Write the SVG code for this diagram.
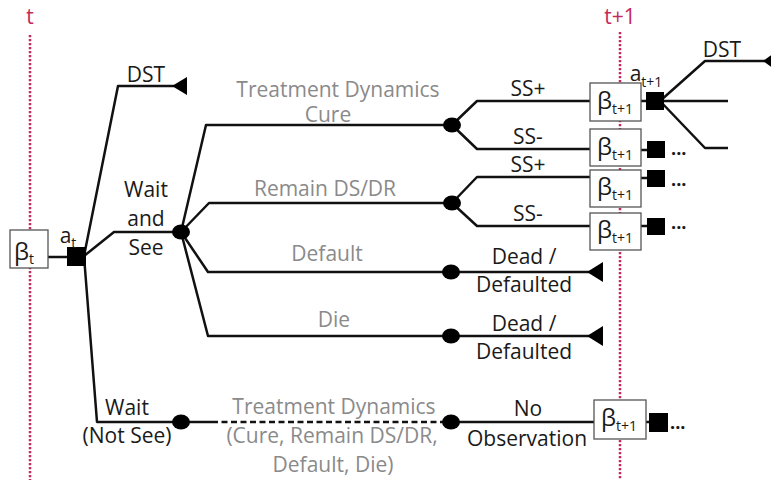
<svg xmlns="http://www.w3.org/2000/svg" width="771" height="483" viewBox="0 0 771 483">
<style>
text{font-family:"Open Sans","Liberation Sans",sans-serif;font-size:21px;fill:#1a1a1a;text-anchor:middle}
.g{fill:#8a8a8a}
.tl{fill:#c42a5c}
.sub{font-size:14px}
.beta{font-size:24px;text-anchor:start}
.ln{fill:none;stroke:#111;stroke-width:2.5;stroke-linejoin:round}
.dash{stroke-dasharray:6 3.5}
.time{fill:none;stroke:#c42a5c;stroke-width:2.5;stroke-dasharray:2.2 1.8}
.box{fill:#fff;stroke:#555;stroke-width:1.3}
.dec{fill:#000}
.chance{fill:#000}
.term{fill:#000}
.dots{font-size:18px;text-anchor:start;font-weight:bold}
</style>
<rect width="771" height="483" fill="#fff"/>
<g id="timeline">
<line class="time" x1="30" y1="35" x2="30" y2="480"/>
<text class="tl" x="30" y="24">t</text>
<line class="time" x1="620" y1="32" x2="620" y2="480"/>
<text class="tl" x="620" y="24">t+1</text>
</g>
<g id="connectors">
<line class="ln" x1="48" y1="257" x2="70" y2="257"/>
<polyline class="ln" points="84,256 118,86 174,86"/>
<polyline class="ln" points="84,256 114,232 181,232"/>
<polyline class="ln" points="84,256 97,422 181,422"/>
<polyline class="ln" points="181,232 206,125 452,125"/>
<polyline class="ln" points="181,232 209,203 452,203"/>
<polyline class="ln" points="181,232 208,272 451,272"/>
<polyline class="ln" points="181,232 208,336 451,336"/>
<polyline class="ln" points="452,125 477,101 590,101"/>
<polyline class="ln" points="452,125 477,149 590,149"/>
<polyline class="ln" points="452,203 477,177 590,177"/>
<polyline class="ln" points="452,203 477,226 590,226"/>
<line class="ln" x1="451" y1="272" x2="590" y2="272"/>
<line class="ln" x1="451" y1="336" x2="590" y2="336"/>
<line class="ln" x1="181" y1="422" x2="212" y2="422"/>
<line class="ln dash" x1="212" y1="422" x2="446" y2="422"/>
<line class="ln" x1="451" y1="422" x2="594" y2="422"/>
<line class="ln" x1="641" y1="101" x2="648" y2="101"/>
<line class="ln" x1="641" y1="150" x2="648" y2="150"/>
<line class="ln" x1="641" y1="178" x2="648" y2="178"/>
<line class="ln" x1="641" y1="226" x2="648" y2="226"/>
<line class="ln" x1="646" y1="422" x2="650" y2="422"/>
<polyline class="ln" points="660,101 705,61 765,61"/>
<line class="ln" x1="660" y1="101" x2="728" y2="101"/>
<polyline class="ln" points="660,101 705,148 728,148"/>
</g>
<g id="belief-t">
<rect class="box" x="10" y="230" width="38" height="38"/>
<text class="beta" x="14" y="260">β<tspan class="sub" dy="4">t</tspan></text>
</g>
<g id="decision-t">
<rect class="dec" x="67" y="247" width="19" height="19"/>
<text x="68" y="243">a<tspan class="sub" dy="5">t</tspan></text>
</g>
<g id="dst-terminal">
<polygon class="term" points="172,86 187,77 187,95"/>
<text x="146" y="82">DST</text>
</g>
<g id="wait-and-see">
<ellipse class="chance" cx="181" cy="232" rx="9" ry="7.5"/>
<text x="146" y="197">Wait</text>
<text x="146" y="226">and</text>
<text x="146" y="255">See</text>
</g>
<g id="wait-not-see">
<ellipse class="chance" cx="181" cy="422" rx="9" ry="7.5"/>
<text x="127" y="415">Wait</text>
<text x="127" y="443">(Not See)</text>
</g>
<g id="cure">
<ellipse class="chance" cx="452" cy="125" rx="9" ry="7.5"/>
<text class="g" x="338" y="97">Treatment Dynamics</text>
<text class="g" x="328" y="122">Cure</text>
<text x="528" y="96">SS+</text>
<text x="528" y="144">SS-</text>
</g>
<g id="remain">
<ellipse class="chance" cx="452" cy="203" rx="9" ry="7.5"/>
<text class="g" x="325" y="196">Remain DS/DR</text>
<text x="528" y="172">SS+</text>
<text x="528" y="221">SS-</text>
</g>
<g id="default">
<ellipse class="chance" cx="451" cy="272" rx="9" ry="7.5"/>
<text class="g" x="327" y="261">Default</text>
<polygon class="term" points="587,272 603,262 603,282"/>
<text x="524" y="264">Dead /</text>
<text x="524" y="292">Defaulted</text>
</g>
<g id="die">
<ellipse class="chance" cx="451" cy="336" rx="9" ry="7.5"/>
<text class="g" x="334" y="327">Die</text>
<polygon class="term" points="587,336 603,326 603,346"/>
<text x="524" y="331">Dead /</text>
<text x="524" y="359">Defaulted</text>
</g>
<g id="not-see-dynamics">
<ellipse class="chance" cx="451" cy="422" rx="9" ry="7.5"/>
<text class="g" x="334" y="414">Treatment Dynamics</text>
<text class="g" x="332" y="443">(Cure, Remain DS/DR,</text>
<text class="g" x="333" y="472">Default, Die)</text>
<text x="528" y="416">No</text>
<text x="527" y="446">Observation</text>
</g>
<g id="belief-t1-a">
<rect class="box" x="590" y="83" width="51" height="38"/>
<text class="beta" x="597" y="109">β<tspan class="sub" dy="5">t+1</tspan></text>
<rect class="dec" x="646" y="92" width="18" height="18"/>
<text x="646" y="81">a<tspan class="sub" dy="6">t+1</tspan></text>
<polygon class="term" points="763,61 777,51 777,71"/>
<text x="722" y="57">DST</text>
</g>
<g id="belief-t1-b">
<rect class="box" x="590" y="129" width="51" height="37"/>
<text class="beta" x="597" y="155">β<tspan class="sub" dy="5">t+1</tspan></text>
<rect class="dec" x="647" y="141" width="18" height="17"/>
<text class="dots" x="671" y="155">...</text>
</g>
<g id="belief-t1-c">
<rect class="box" x="590" y="170" width="51" height="37"/>
<text class="beta" x="597" y="195">β<tspan class="sub" dy="5">t+1</tspan></text>
<rect class="dec" x="647" y="170" width="18" height="17"/>
<text class="dots" x="671" y="186">...</text>
</g>
<g id="belief-t1-d">
<rect class="box" x="590" y="213" width="51" height="37"/>
<text class="beta" x="597" y="238">β<tspan class="sub" dy="5">t+1</tspan></text>
<rect class="dec" x="647" y="218" width="18" height="17"/>
<text class="dots" x="671" y="229">...</text>
</g>
<g id="belief-t1-e">
<rect class="box" x="594" y="400" width="52" height="39"/>
<text class="beta" x="601" y="426">β<tspan class="sub" dy="5">t+1</tspan></text>
<rect class="dec" x="649" y="413" width="19" height="19"/>
<text class="dots" x="670" y="429">...</text>
</g>
</svg>
